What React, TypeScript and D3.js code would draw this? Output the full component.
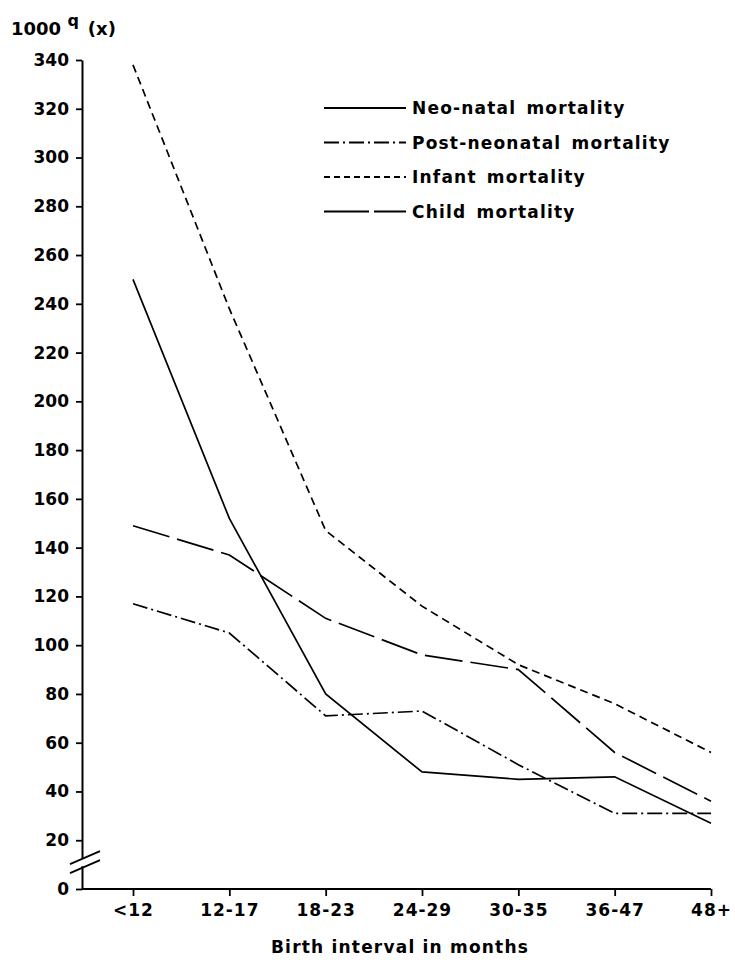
import React, { useRef, useEffect } from "react";
import * as d3 from "d3";

const intervals = ["<12", "12-17", "18-23", "24-29", "30-35", "36-47", "48+"];
const neoNatal = [250, 152, 80, 48, 45, 46, 27];
const postNeonatal = [117, 105, 71, 73, 51, 31, 31];
const infant = [338, 238, 147, 116, 92, 76, 56];
const child = [149, 137, 111, 96, 90, 56, 36];
const yTicks = [0, 20, 40, 60, 80, 100, 120, 140, 160, 180, 200, 220, 240, 260, 280, 300, 320, 340];

const seriesNames = ["Neo-natal mortality", "Post-neonatal mortality", "Infant mortality", "Child mortality"];
const seriesValues = [neoNatal, postNeonatal, infant, child];
const seriesDash = ["none", "15,4,2,4", "8,5", "38,8"];
const legendDash = ["none", "15,4,2,4", "6,4", "45,5"];

const FONT = "'DejaVu Sans', sans-serif";

const Chart = () => {
  const svgRef = useRef<SVGSVGElement>(null);

  useEffect(() => {
    const svg = d3.select(svgRef.current);
    svg.selectAll("*").remove();

    const width = 735;
    const height = 960;
    const margin = { top: 60, left: 82, right: 24, bottom: 71 };

    svg.attr("width", width).attr("height", height);

    const x = d3.scalePoint<string>()
      .domain(intervals)
      .range([133, 711]);

    const y = d3.scaleLinear()
      .domain([0, 340])
      .range([height - margin.bottom, margin.top]);

    // y axis
    const yAxis = svg.append("g")
      .attr("transform", `translate(${margin.left},0)`)
      .call(d3.axisLeft(y).tickValues(yTicks).tickSize(6).tickSizeOuter(0).tickPadding(7));
    yAxis.select(".domain").attr("stroke", "#000").attr("stroke-width", 2);
    yAxis.selectAll(".tick line").attr("stroke", "#000").attr("stroke-width", 1.8);
    yAxis.selectAll(".tick text")
      .attr("font-family", FONT)
      .attr("font-weight", "bold")
      .attr("font-size", 17)
      .attr("fill", "#000");

    // axis break
    const yb = y(11);
    svg.append("rect")
      .attr("x", margin.left - 3).attr("y", yb - 4)
      .attr("width", 6).attr("height", 8)
      .attr("fill", "#fff");
    [-4.5, 4.5].forEach(off => {
      svg.append("line")
        .attr("x1", 70).attr("y1", yb + off + 6.5)
        .attr("x2", 100).attr("y2", yb + off - 6.5)
        .attr("stroke", "#000").attr("stroke-width", 1.8);
    });

    // x axis
    const xAxis = svg.append("g")
      .attr("transform", `translate(0,${y(0)})`)
      .call(d3.axisBottom(x).tickSize(7).tickSizeOuter(0).tickPadding(8));
    xAxis.select(".domain").remove();
    xAxis.append("line")
      .attr("x1", margin.left).attr("x2", x("48+") as number)
      .attr("stroke", "#000").attr("stroke-width", 2);
    xAxis.selectAll(".tick line").attr("stroke", "#000").attr("stroke-width", 1.8);
    xAxis.selectAll(".tick text")
      .attr("font-family", FONT)
      .attr("font-weight", "bold")
      .attr("font-size", 17)
      .attr("letter-spacing", 1)
      .attr("fill", "#000");

    // lines
    const line = d3.line<number>()
      .x((d, i) => x(intervals[i]) as number)
      .y(d => y(d));

    seriesValues.forEach((vals, i) => {
      svg.append("path")
        .datum(vals)
        .attr("d", line)
        .attr("fill", "none")
        .attr("stroke", "#000")
        .attr("stroke-width", 1.7)
        .attr("stroke-dasharray", seriesDash[i]);
    });

    // legend
    const legend = svg.append("g").attr("transform", "translate(324,108)");
    seriesNames.forEach((name, i) => {
      const row = legend.append("g").attr("transform", `translate(0,${i * 34.5})`);
      row.append("line")
        .attr("x1", 0).attr("x2", 82)
        .attr("stroke", "#000").attr("stroke-width", 1.8)
        .attr("stroke-dasharray", legendDash[i]);
      row.append("text")
        .attr("x", 88).attr("y", 6)
        .attr("font-family", FONT)
        .attr("font-weight", "bold")
        .attr("font-size", 17)
        .attr("letter-spacing", 1.2)
        .attr("word-spacing", 3)
        .text(name);
    });

    // y label
    const yLabel = svg.append("text")
      .attr("x", 11).attr("y", 35)
      .attr("font-family", FONT)
      .attr("font-weight", "bold")
      .attr("font-size", 18);
    yLabel.append("tspan").text("1000 ");
    yLabel.append("tspan").attr("dy", -9).attr("font-size", 16).text("q");
    yLabel.append("tspan").attr("dy", 9).attr("dx", 9).text("(x)");

    // x label
    svg.append("text")
      .attr("x", 400).attr("y", 953)
      .attr("text-anchor", "middle")
      .attr("font-family", FONT)
      .attr("font-weight", "bold")
      .attr("font-size", 17)
      .attr("letter-spacing", 1.2)
      .text("Birth interval in months");
  }, []);

  return <svg ref={svgRef} style={{ display: "block" }} />;
};

export default function App() {
  return (
    <div style={{ position: "absolute", top: 0, left: 0, width: 735, height: 960, background: "#fff" }}>
      <Chart />
    </div>
  );
}
